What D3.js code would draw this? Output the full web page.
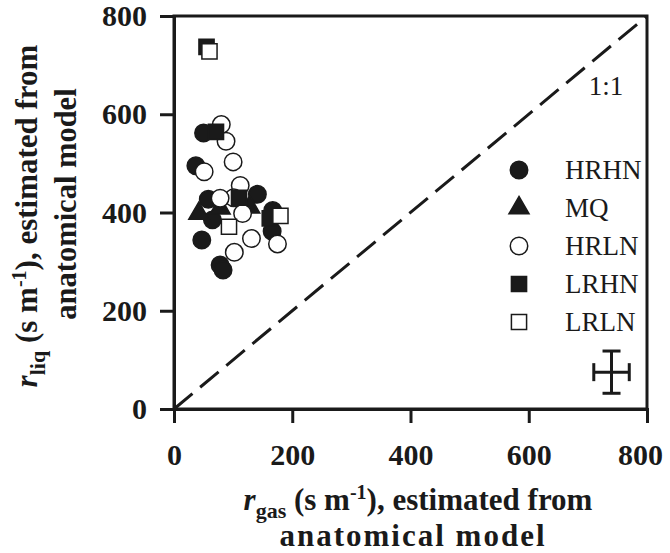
<!DOCTYPE html>
<html lang="en">
<head>
    <meta charset="UTF-8">
    <title>r_liq vs r_gas</title>
    <script src="https://cdnjs.cloudflare.com/ajax/libs/d3/7.8.5/d3.min.js"></script>
    <style>
        body { margin: 0; background: #fff; }
        svg { display: block; font-family: "Liberation Serif", "Times New Roman", serif; }
    </style>
</head>
<body>
<svg width="670" height="553"></svg>

<script>
    // Data (x = r_gas, y = r_liq, s m-1)
    const hrhn = [[50, 562], [37, 495], [58, 427], [141, 437], [65, 385], [167, 404], [166, 362], [47, 344], [78, 293], [83, 283]];
    const mq = [[42, 398], [78, 409], [128, 411]];
    const hrln = [[80, 579], [88, 545], [100, 503], [51, 483], [112, 455], [101, 430], [78, 429], [116, 398], [131, 347], [102, 319], [175, 336]];
    const lrhn = [[55, 737], [71, 564], [110, 430], [162, 388]];
    const lrln = [[60, 728], [93, 371], [180, 393]];
    const seriesNames = ["HRHN", "MQ", "HRLN", "LRHN", "LRLN"];
    const tickValues = [0, 200, 400, 600, 800];
    const errorBar = { x: 740, y: 75, dx: 30, dy: 43 };

    const svg = d3.select("svg");
    const plotLeft = 174, plotRight = 647, plotTop = 16, plotBottom = 409;

    const x = d3.scaleLinear().domain([0, 800]).range([plotLeft, plotRight]);
    const y = d3.scaleLinear().domain([0, 800]).range([plotBottom, plotTop]);
    const ink = "#1a1a1a";

    // frame
    svg.append("rect")
        .attr("x", plotLeft).attr("y", plotTop)
        .attr("width", plotRight - plotLeft).attr("height", plotBottom - plotTop)
        .attr("fill", "none").attr("stroke", ink).attr("stroke-width", 3);

    // axes
    const xAxis = svg.append("g")
        .attr("transform", `translate(0,${plotBottom})`)
        .call(d3.axisBottom(x).tickValues(tickValues).tickSize(14).tickFormat(d3.format("d")));
    const yAxis = svg.append("g")
        .attr("transform", `translate(${plotLeft},0)`)
        .call(d3.axisLeft(y).tickValues(tickValues).tickSize(14).tickPadding(13).tickFormat(d3.format("d")));

    [xAxis, yAxis].forEach(g => {
        g.select(".domain").attr("stroke", ink).attr("stroke-width", 3);
        g.selectAll(".tick line").attr("stroke", ink).attr("stroke-width", 3);
        g.selectAll(".tick text")
            .attr("fill", ink)
            .style("font-family", "'Liberation Serif', serif")
            .style("font-size", "30px")
            .style("font-weight", "bold");
    });
    xAxis.selectAll(".tick text").attr("y", 56).attr("dy", 0);
    xAxis.selectAll(".tick text").filter(d => d === 800).attr("dx", -7);

    // 1:1 line
    svg.append("line")
        .attr("x1", x(0)).attr("y1", y(0))
        .attr("x2", x(800)).attr("y2", y(800))
        .attr("stroke", ink).attr("stroke-width", 3)
        .attr("stroke-dasharray", "24,10");

    svg.append("text")
        .attr("x", 606).attr("y", 95)
        .attr("text-anchor", "middle")
        .attr("fill", ink)
        .style("font-size", "27px")
        .text("1:1");

    // markers
    const circleSym = d3.symbol().type(d3.symbolCircle).size(240);
    const triSym = d3.symbol().type(d3.symbolTriangle).size(175);
    const sqSym = d3.symbol().type(d3.symbolSquare).size(230);

    const marks = [
        { data: hrhn, sym: circleSym, fill: ink },
        { data: mq, sym: triSym, fill: ink },
        { data: hrln, sym: circleSym, fill: "#fff" },
        { data: lrhn, sym: sqSym, fill: ink },
        { data: lrln, sym: sqSym, fill: "#fff" }
    ];

    marks.forEach(m => {
        svg.append("g").selectAll("path")
            .data(m.data)
            .join("path")
            .attr("transform", d => `translate(${x(d[0])},${y(d[1])})`)
            .attr("d", m.sym)
            .attr("fill", m.fill)
            .attr("stroke", ink)
            .attr("stroke-width", 1.5);
    });

    // legend
    const legend = svg.append("g");
    seriesNames.forEach((name, i) => {
        const ly = 170 + i * 38;
        legend.append("path")
            .attr("transform", `translate(519,${ly})`)
            .attr("d", marks[i].sym)
            .attr("fill", marks[i].fill)
            .attr("stroke", ink)
            .attr("stroke-width", 1.5);
        legend.append("text")
            .attr("x", 565).attr("y", ly)
            .attr("dy", "0.35em")
            .attr("fill", ink)
            .style("font-size", "27px")
            .text(name);
    });

    // error bar
    const eb = svg.append("g").attr("stroke", ink).attr("stroke-width", 3);
    const ex = x(errorBar.x), ey = y(errorBar.y);
    const x0 = x(errorBar.x - errorBar.dx), x1 = x(errorBar.x + errorBar.dx);
    const y0 = y(errorBar.y - errorBar.dy), y1 = y(errorBar.y + errorBar.dy);
    eb.append("line").attr("x1", x0).attr("x2", x1).attr("y1", ey).attr("y2", ey);
    eb.append("line").attr("x1", ex).attr("x2", ex).attr("y1", y0).attr("y2", y1);
    eb.append("line").attr("x1", x0).attr("x2", x0).attr("y1", ey - 9).attr("y2", ey + 9);
    eb.append("line").attr("x1", x1).attr("x2", x1).attr("y1", ey - 9).attr("y2", ey + 9);
    eb.append("line").attr("x1", ex - 9).attr("x2", ex + 9).attr("y1", y0).attr("y2", y0);
    eb.append("line").attr("x1", ex - 9).attr("x2", ex + 9).attr("y1", y1).attr("y2", y1);

    // axis titles
    function titleLine1(sel, sub) {
        sel.style("font-size", "31px");
        sel.append("tspan").style("font-style", "italic").text("r");
        sel.append("tspan").attr("dy", 8).style("font-size", "22px").text(sub);
        sel.append("tspan").attr("dy", -8).text(" (s m");
        sel.append("tspan").attr("dy", -11).style("font-size", "20px").text("-1");
        sel.append("tspan").attr("dy", 11).text("), estimated from");
    }

    const xTitle = svg.append("g")
        .attr("fill", ink)
        .style("font-weight", "bold")
        .attr("text-anchor", "middle");
    titleLine1(xTitle.append("text").attr("x", 418).attr("y", 510), "gas");
    xTitle.append("text").attr("x", 413).attr("y", 546)
        .style("font-size", "31px").style("letter-spacing", "2px").text("anatomical model");

    const yTitle = svg.append("g")
        .attr("fill", ink)
        .style("font-weight", "bold")
        .attr("text-anchor", "middle")
        .attr("transform", "rotate(-90)");
    titleLine1(yTitle.append("text").attr("x", -216).attr("y", 37), "liq");
    yTitle.append("text").attr("x", -204).attr("y", 76)
        .style("font-size", "30.5px").text("anatomical model");
</script>
</body>
</html>
